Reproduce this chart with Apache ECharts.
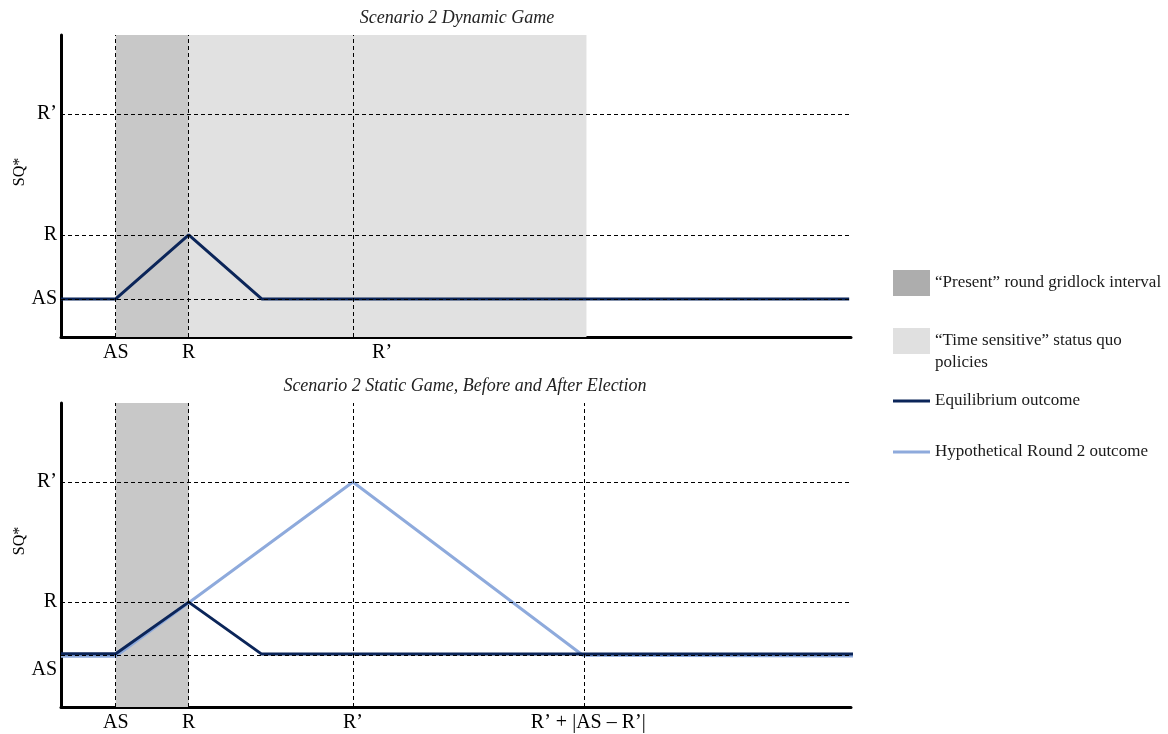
<!DOCTYPE html>
<html>
<head>
<meta charset="utf-8">
<script src="https://cdn.jsdelivr.net/npm/echarts@6/dist/echarts.min.js"></script>
<style>
  html, body { margin: 0; padding: 0; background: #fff; }
  #chart { width: 1168px; height: 734px; }
</style>
</head>
<body>
<div id="chart"></div>
<script>
// axis labels (positions in chart units)
const yLabels = ['AS', 'R', 'R’'];
const yLabelPosTop = [12.6, 33.8, 73.8];
const yLabelPosBottom = [12.2, 34.5, 74];
const xLabelsTop = ['AS', 'R', 'R’'];
const xLabelPosTop = [3, 7, 17.6];
const xLabelsBottom = ['AS', 'R', 'R’', 'R’ + |AS – R’|'];
const xLabelPosBottom = [3, 7, 16, 28.9];

// dashed guide lines
const guideYTop = [12.6, 33.8, 73.8];
const guideXTop = [3, 7, 16];
const guideYBottom = [17.1, 34.5, 74];
const guideXBottom = [3, 7, 16, 28.7];

// shaded intervals
const gridlockTop = [3, 7];
const timeSensitiveTop = [7, 28.8];
const gridlockBottom = [3, 7];

// outcomes
const equilibriumTop = [[0, 12.6], [3, 12.6], [7, 33.8], [11, 12.6], [43.2, 12.6]];
const equilibriumBottom = [[0, 17.5], [3, 17.5], [7, 34.5], [11, 17.4], [43.5, 17.4]];
const hypotheticalBottom = [[0, 16.7], [3, 16.7], [7, 34.3], [16, 74], [28.6, 17], [43.5, 16.8]];

const nameGridlock = '“Present” round gridlock interval';
const nameTime = '“Time sensitive” status quo policies';
const nameEq = 'Equilibrium outcome';
const nameHyp = 'Hypothetical Round 2 outcome';

const serif = 'Liberation Serif';
const navy = '#0b2559';
const lightBlue = '#8eaadc';

const myChart = echarts.init(document.getElementById('chart'));

function guides (ys, xs) {
  return {
    silent: true,
    symbol: 'none',
    label: { show: false },
    lineStyle: { type: [4, 3], color: '#000', width: 1 },
    data: ys.map(v => ({ yAxis: v })).concat(xs.map(v => ({ xAxis: v })))
  };
}

function xAxisOf (grid, pos, labels) {
  return {
    type: 'value',
    gridIndex: grid,
    min: 0,
    max: 43.3,
    splitLine: { show: false },
    axisTick: { show: false },
    axisLine: { onZero: false, lineStyle: { color: '#000', width: 3 } },
    axisLabel: {
      customValues: pos,
      margin: 6,
      fontFamily: serif,
      fontSize: 20,
      color: '#000',
      formatter: v => labels[pos.indexOf(v)]
    }
  };
}

function yAxisOf (grid, pos) {
  return {
    type: 'value',
    gridIndex: grid,
    min: 0,
    max: 100,
    name: 'SQ*',
    nameLocation: 'middle',
    nameGap: 33,
    nameMoveOverlap: false,
    nameTextStyle: { fontFamily: serif, fontSize: 16, color: '#000', padding: [0, 0, 0, 28] },
    splitLine: { show: false },
    axisTick: { show: false },
    axisLine: { show: true, lineStyle: { color: '#000', width: 3 } },
    axisLabel: {
      customValues: pos,
      margin: 4,
      fontFamily: serif,
      fontSize: 20,
      color: '#000',
      formatter: v => yLabels[pos.indexOf(v)]
    }
  };
}

const legendText = { fontFamily: serif, fontSize: 17, color: '#1a1a1a', lineHeight: 20 };

myChart.setOption({
  animation: false,
  title: [
    { text: 'Scenario 2 Dynamic Game', left: 457, top: 9, textAlign: 'center', padding: 0,
      textStyle: { fontFamily: serif, fontStyle: 'italic', fontWeight: 'normal', fontSize: 18, color: '#222' } },
    { text: 'Scenario 2 Static Game, Before and After Election', left: 465, top: 377, textAlign: 'center', padding: 0,
      textStyle: { fontFamily: serif, fontStyle: 'italic', fontWeight: 'normal', fontSize: 18, color: '#222' } }
  ],
  legend: [
    { data: [{ name: nameGridlock, icon: 'rect', itemStyle: { color: '#adadad' } }],
      orient: 'vertical', left: 893, top: 270, padding: 0, itemWidth: 37, itemHeight: 26,
      selectedMode: false, textStyle: legendText },
    { data: [{ name: nameTime, icon: 'rect', itemStyle: { color: '#e0e0e0' } }],
      orient: 'vertical', left: 893, top: 308, padding: 0, itemWidth: 37, itemHeight: 26,
      selectedMode: false, textStyle: Object.assign({}, legendText, { lineHeight: 22 }),
      formatter: () => '\n“Time sensitive” status quo\npolicies' },
    { data: [{ name: nameEq, icon: 'rect', itemStyle: { color: navy } }],
      orient: 'vertical', left: 893, top: 391, padding: 0, itemWidth: 37, itemHeight: 3,
      selectedMode: false, textStyle: legendText },
    { data: [{ name: nameHyp, icon: 'rect', itemStyle: { color: lightBlue } }],
      orient: 'vertical', left: 893, top: 442, padding: 0, itemWidth: 37, itemHeight: 3,
      selectedMode: false, textStyle: legendText }
  ],
  grid: [
    { left: 61, top: 35, width: 790, height: 302, outerBoundsMode: 'none' },
    { left: 61, top: 403, width: 790, height: 304, outerBoundsMode: 'none' }
  ],
  xAxis: [xAxisOf(0, xLabelPosTop, xLabelsTop), xAxisOf(1, xLabelPosBottom, xLabelsBottom)],
  yAxis: [yAxisOf(0, yLabelPosTop), yAxisOf(1, yLabelPosBottom)],
  series: [
    { name: nameGridlock, type: 'line', data: [], xAxisIndex: 0, yAxisIndex: 0, color: '#adadad' },
    { name: nameTime, type: 'line', data: [], xAxisIndex: 0, yAxisIndex: 0, color: '#e0e0e0' },
    {
      name: nameEq,
      type: 'line',
      xAxisIndex: 0,
      yAxisIndex: 0,
      data: equilibriumTop,
      symbol: 'none',
      clip: false,
      color: navy,
      lineStyle: { width: 3, color: navy },
      markArea: {
        silent: true,
        data: [
          [{ xAxis: gridlockTop[0], itemStyle: { color: '#c8c8c8' } }, { xAxis: gridlockTop[1] }],
          [{ xAxis: timeSensitiveTop[0], itemStyle: { color: '#e1e1e1' } }, { xAxis: timeSensitiveTop[1] }]
        ]
      },
      markLine: guides(guideYTop, guideXTop)
    },
    {
      name: nameHyp,
      type: 'line',
      xAxisIndex: 1,
      yAxisIndex: 1,
      data: hypotheticalBottom,
      symbol: 'none',
      clip: false,
      color: lightBlue,
      lineStyle: { width: 3, color: lightBlue },
      markArea: {
        silent: true,
        data: [
          [{ xAxis: gridlockBottom[0], itemStyle: { color: '#c8c8c8' } }, { xAxis: gridlockBottom[1] }]
        ]
      },
      markLine: guides(guideYBottom, guideXBottom)
    },
    {
      name: nameEq,
      type: 'line',
      xAxisIndex: 1,
      yAxisIndex: 1,
      data: equilibriumBottom,
      symbol: 'none',
      clip: false,
      color: navy,
      lineStyle: { width: 3, color: navy }
    }
  ]
});

window.addEventListener('resize', function () {
  myChart.resize();
});
</script>
</body>
</html>
